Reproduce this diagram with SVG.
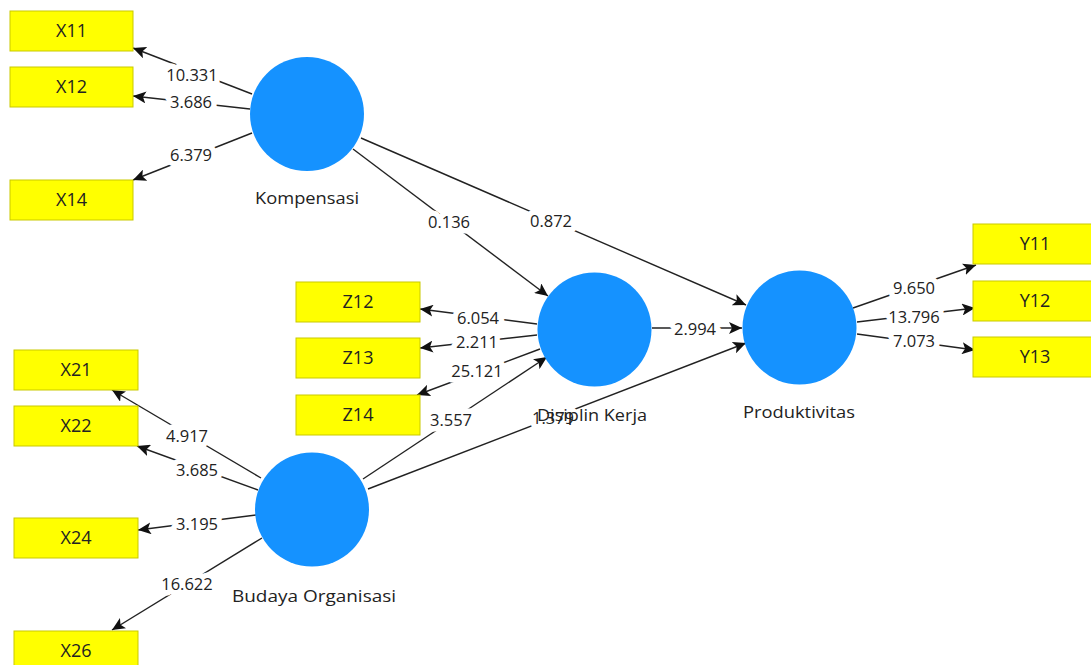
<svg xmlns="http://www.w3.org/2000/svg" width="1091" height="665" viewBox="0 0 1091 665">
<defs>
<marker id="arr" markerUnits="userSpaceOnUse" markerWidth="14" markerHeight="12" refX="13" refY="6" orient="auto">
<path d="M0,0 L13,6 L0,12 L3,6 Z" fill="#111"/>
</marker>
<style>
.ind rect{fill:#ffff00;stroke:#c9c900;stroke-width:1}
.ind text{font-family:"Open Sans","Noto Sans",sans-serif;font-size:18px;fill:#222;text-anchor:middle}
.lat circle{fill:#1592ff}
.lat text{font-family:"Open Sans","Noto Sans",sans-serif;font-size:17px;fill:#222;text-anchor:middle}
.c line{stroke:#222;stroke-width:1.4;marker-end:url(#arr)}
.c text{font-family:"Open Sans","Noto Sans",sans-serif;font-size:16.5px;fill:#222;text-anchor:middle;stroke:#fff;stroke-width:11;paint-order:stroke;stroke-linejoin:round}
</style>
</defs>
<rect width="1091" height="665" fill="#fff"/>
<g id="connectors" class="c">
<line x1="252" y1="94" x2="133" y2="48"/>
<line x1="250" y1="109" x2="133" y2="96"/>
<line x1="252" y1="133" x2="133" y2="180"/>
<line x1="353" y1="149" x2="548" y2="296"/>
<line x1="361" y1="138" x2="746" y2="305"/>
<line x1="537" y1="324" x2="420" y2="309"/>
<line x1="537" y1="335" x2="420" y2="348"/>
<line x1="540" y1="349" x2="417" y2="395"/>
<line x1="652" y1="328" x2="742" y2="328"/>
<line x1="363" y1="479" x2="547" y2="357"/>
<line x1="368" y1="489" x2="746" y2="343"/>
<line x1="261" y1="478" x2="112" y2="390"/>
<line x1="258" y1="490" x2="137" y2="446"/>
<line x1="256" y1="515" x2="138" y2="530"/>
<line x1="262" y1="538" x2="112" y2="630"/>
<line x1="853" y1="308" x2="976" y2="265"/>
<line x1="857" y1="322" x2="975" y2="308"/>
<line x1="857" y1="334" x2="975" y2="350"/>
<text x="192" y="81">10.331</text>
<text x="191" y="108">3.686</text>
<text x="191" y="161">6.379</text>
<text x="449" y="228">0.136</text>
<text x="551" y="227">0.872</text>
<text x="478" y="324">6.054</text>
<text x="477" y="348">2.211</text>
<text x="477" y="377">25.121</text>
<text x="695" y="335">2.994</text>
<text x="451" y="426">3.557</text>
<text x="553" y="424">1.379</text>
<text x="187" y="442">4.917</text>
<text x="197" y="476">3.685</text>
<text x="197" y="530">3.195</text>
<text x="187" y="590">16.622</text>
<text x="914" y="294">9.650</text>
<text x="914" y="323">13.796</text>
<text x="914" y="347">7.073</text>
</g>
<g id="X11" class="ind"><rect x="10" y="11" width="123" height="40"/><text x="71.5" y="37">X11</text></g>
<g id="X12" class="ind"><rect x="10" y="67" width="123" height="40"/><text x="71.5" y="93">X12</text></g>
<g id="X14" class="ind"><rect x="10" y="180" width="123" height="40"/><text x="71.5" y="206">X14</text></g>
<g id="Z12" class="ind"><rect x="296" y="282" width="124" height="40"/><text x="358" y="308">Z12</text></g>
<g id="Z13" class="ind"><rect x="296" y="338" width="124" height="40"/><text x="358" y="364">Z13</text></g>
<g id="Z14" class="ind"><rect x="296" y="395" width="124" height="40"/><text x="358" y="421">Z14</text></g>
<g id="X21" class="ind"><rect x="14" y="350" width="124" height="40"/><text x="76" y="376">X21</text></g>
<g id="X22" class="ind"><rect x="14" y="406" width="124" height="40"/><text x="76" y="432">X22</text></g>
<g id="X24" class="ind"><rect x="14" y="518" width="124" height="40"/><text x="76" y="544">X24</text></g>
<g id="X26" class="ind"><rect x="14" y="631" width="124" height="40"/><text x="76" y="657">X26</text></g>
<g id="Y11" class="ind"><rect x="973" y="224" width="124" height="40"/><text x="1035" y="250">Y11</text></g>
<g id="Y12" class="ind"><rect x="973" y="281" width="124" height="40"/><text x="1035" y="307">Y12</text></g>
<g id="Y13" class="ind"><rect x="973" y="337" width="124" height="40"/><text x="1035" y="363">Y13</text></g>
<g id="Kompensasi" class="lat"><circle cx="307" cy="114" r="57"/><text x="307" y="204" textLength="104" lengthAdjust="spacingAndGlyphs">Kompensasi</text></g>
<g id="DisiplinKerja" class="lat"><circle cx="594.5" cy="329.5" r="57"/><text x="592" y="421" textLength="110" lengthAdjust="spacingAndGlyphs">Disiplin Kerja</text></g>
<g id="Produktivitas" class="lat"><circle cx="799.5" cy="327.5" r="57"/><text x="799" y="418" textLength="112" lengthAdjust="spacingAndGlyphs">Produktivitas</text></g>
<g id="BudayaOrganisasi" class="lat"><circle cx="312" cy="509.5" r="57"/><text x="314" y="602" textLength="164" lengthAdjust="spacingAndGlyphs">Budaya Organisasi</text></g>
</svg>
